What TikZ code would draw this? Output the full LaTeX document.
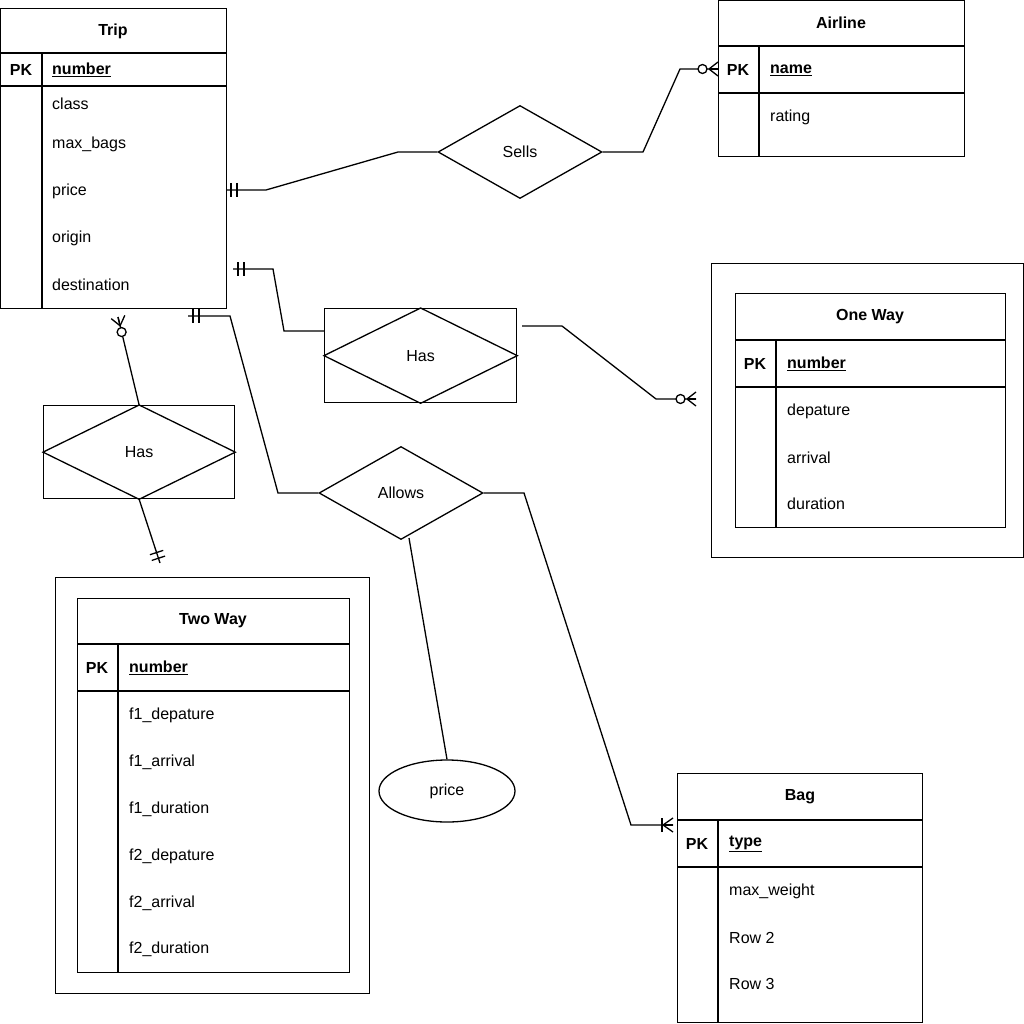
\documentclass[tikz,border=0pt]{standalone}
\usepackage{fontspec}
\setmainfont{Liberation Sans}
\usetikzlibrary{shapes.geometric,calc}
\tikzset{
  tbl/.style={draw, line width=1.3pt, rectangle, inner sep=0pt, anchor=north west},
  conn/.style={line width=1.3pt},
  ln/.style={line width=1.3pt},
  ttl/.style={font=\bfseries\fontsize{16}{19}\selectfont, inner sep=0pt},
  attr/.style={anchor=west, font=\fontsize{16}{19}\selectfont, inner sep=0pt},
  rel/.style={draw, line width=1.3pt, diamond, inner sep=0pt, font=\fontsize{16}{19}\selectfont},
}
\newcommand\mkone[2]{%
  \coordinate (mA) at ($(#1)!5pt!(#2)$);
  \coordinate (mB) at ($(#1)!11pt!(#2)$);
  \draw[conn] ($(mA)!7pt!90:(#2)$) -- ($(mA)!7pt!-90:(#2)$);
  \draw[conn] ($(mB)!7pt!90:(#2)$) -- ($(mB)!7pt!-90:(#2)$);}
\newcommand\mkzeromany[2]{%
  \coordinate (mV) at ($(#1)!9pt!(#2)$);
  \coordinate (mC) at ($(#1)!15.5pt!(#2)$);
  \draw[conn] (mV) -- ($(#1)!7pt!90:(#2)$);
  \draw[conn] (mV) -- (#1);
  \draw[conn] (mV) -- ($(#1)!7pt!-90:(#2)$);
  \draw[conn, fill=white] (mC) circle[radius=4.5pt];}
\newcommand\mkonemany[2]{%
  \coordinate (mV) at ($(#1)!10pt!(#2)$);
  \coordinate (mB) at ($(#1)!11pt!(#2)$);
  \draw[conn] (mV) -- ($(#1)!7pt!90:(#2)$);
  \draw[conn] (mV) -- (#1);
  \draw[conn] (mV) -- ($(#1)!7pt!-90:(#2)$);
  \draw[conn] ($(mB)!7pt!90:(#2)$) -- ($(mB)!7pt!-90:(#2)$);}
\begin{document}
\begin{tikzpicture}[x=1pt,y=-1pt]
\useasboundingbox (0,0) rectangle (1024,1024);

% ---------- Trip ----------
\node[tbl, minimum width=226pt, minimum height=300pt] (trip) at (0,8) {};
\draw[ln] (0,53) -- (226,53);
\draw[ln] (0,86) -- (226,86);
\draw[ln] (42,53) -- (42,308);
\node[ttl] (tripT) at (113,31) {Trip};
\node[ttl] (tripPK) at (21,70) {PK};
\node[attr, font=\bfseries\fontsize{16}{19}\selectfont] (tripK) at (52,70) {\underline{number}};
\node[attr] (trip1) at (52,104) {class};
\node[attr] (trip2) at (52,144) {max\_bags};
\node[attr] (trip3) at (52,191) {price};
\node[attr] (trip4) at (52,238) {origin};
\node[attr] (trip5) at (52,285) {destination};

% ---------- Airline ----------
\node[tbl, minimum width=246pt, minimum height=156pt] (airline) at (718,0) {};
\draw[ln] (718,46) -- (964,46);
\draw[ln] (718,93) -- (964,93);
\draw[ln] (759,46) -- (759,156);
\node[ttl] (airT) at (841,23) {Airline};
\node[ttl] (airPK) at (738,70) {PK};
\node[attr, font=\bfseries\fontsize{16}{19}\selectfont] (airK) at (770,70) {\underline{name}};
\node[attr] (air1) at (770,117) {rating};

% ---------- One Way ----------
\node[tbl, minimum width=312pt, minimum height=294pt] (oneway) at (711,263) {};
\node[tbl, minimum width=270pt, minimum height=234pt] (onewayT) at (735,293) {};
\draw[ln] (735,340) -- (1005,340);
\draw[ln] (735,387) -- (1005,387);
\draw[ln] (776,340) -- (776,527);
\node[ttl] (owT) at (870,317) {One Way};
\node[ttl] (owPK) at (755,364) {PK};
\node[attr, font=\bfseries\fontsize{16}{19}\selectfont] (owK) at (787,364) {\underline{number}};
\node[attr] (ow1) at (787,411) {depature};
\node[attr] (ow2) at (787,458) {arrival};
\node[attr] (ow3) at (787,504) {duration};

% ---------- Two Way ----------
\node[tbl, minimum width=314pt, minimum height=416pt] (twoway) at (55,577) {};
\node[tbl, minimum width=272pt, minimum height=374pt] (twowayT) at (77,598) {};
\draw[ln] (77,644) -- (349,644);
\draw[ln] (77,691) -- (349,691);
\draw[ln] (118,644) -- (118,972);
\node[ttl] (twT) at (213,621) {Two Way};
\node[ttl] (twPK) at (97,668) {PK};
\node[attr, font=\bfseries\fontsize{16}{19}\selectfont] (twK) at (129,668) {\underline{number}};
\node[attr] (tw1) at (129,715) {f1\_depature};
\node[attr] (tw2) at (129,762) {f1\_arrival};
\node[attr] (tw3) at (129,809) {f1\_duration};
\node[attr] (tw4) at (129,856) {f2\_depature};
\node[attr] (tw5) at (129,903) {f2\_arrival};
\node[attr] (tw6) at (129,949) {f2\_duration};

% ---------- Bag ----------
\node[tbl, minimum width=245pt, minimum height=249pt] (bag) at (677,773) {};
\draw[ln] (677,820) -- (922,820);
\draw[ln] (677,867) -- (922,867);
\draw[ln] (718,820) -- (718,1022);
\node[ttl] (bagT) at (800,797) {Bag};
\node[ttl] (bagPK) at (697,844) {PK};
\node[attr, font=\bfseries\fontsize{16}{19}\selectfont] (bagK) at (729,844) {\underline{type}};
\node[attr] (bag1) at (729,891) {max\_weight};
\node[attr] (bag2) at (729,938) {Row 2};
\node[attr] (bag3) at (729,984) {Row 3};

% ---------- Relationships ----------
\node[rel, minimum width=164pt, minimum height=93pt] (sells) at (520,152) {Sells};
\node[rel, minimum width=164pt, minimum height=93pt] (allows) at (401,493) {Allows};

\node[tbl, minimum width=192pt, minimum height=94pt] (hasA) at (324,308) {};
\draw[ln] (hasA.west) -- (hasA.north) -- (hasA.east) -- (hasA.south) -- cycle;
\node[font=\fontsize{16}{19}\selectfont, inner sep=0pt] (hasAT) at (hasA.center) {Has};

\node[tbl, minimum width=191pt, minimum height=93pt] (hasB) at (43,405) {};
\draw[ln] (hasB.west) -- (hasB.north) -- (hasB.east) -- (hasB.south) -- cycle;
\node[font=\fontsize{16}{19}\selectfont, inner sep=0pt] (hasBT) at (hasB.center) {Has};

\node[draw, ellipse, line width=1.3pt, minimum width=136pt, minimum height=62pt, inner sep=0pt,
      font=\fontsize{16}{19}\selectfont] (price) at (447,791) {price};

% ---------- Connectors ----------
% Trip -- Sells -- Airline
\coordinate (c1) at (226,190);
\coordinate (c2) at (718,69);
\draw[conn] (c1) -- (266,190) -- (398,152) -- (sells.west);
\draw[conn] (sells.east) -- (643,152) -- (680,69) -- (c2);
\mkone{c1}{266,190}
\mkzeromany{c2}{680,69}

% Trip -- Has -- One Way
\coordinate (c3) at (233,269);
\coordinate (c4) at (522,326);
\coordinate (c5) at (696,399);
\draw[conn] (c3) -- (273,269) -- (284,331) -- (hasA.west |- 0,331);
\draw[conn] (c4) -- (562,326) -- (656,399) -- (c5);
\mkone{c3}{273,269}
\mkzeromany{c5}{656,399}

% Trip -- Has -- Two Way
\coordinate (c6) at (118,317);
\coordinate (c7) at (160,563);
\draw[conn] (hasB.north) -- (c6);
\draw[conn] (hasB.south) -- (c7);
\mkzeromany{c6}{hasB.north}
\mkone{c7}{hasB.south}

% Trip -- Allows -- Bag
\coordinate (c8) at (188,316);
\coordinate (c9) at (673,825);
\draw[conn] (allows.west) -- (278,493) -- (230,316) -- (c8);
\draw[conn] (allows.east) -- (524,493) -- (631,825) -- (c9);
\mkone{c8}{230,316}
\mkonemany{c9}{631,825}

% Allows -- price
\coordinate (c10) at (409,538);
\draw[conn] (c10) -- (price.north);
\end{tikzpicture}
\end{document}
